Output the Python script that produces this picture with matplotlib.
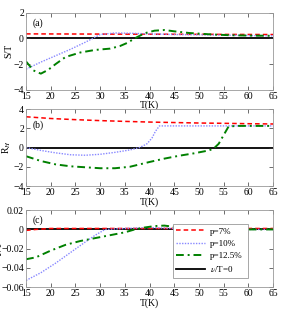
import matplotlib.pyplot as plt

plt.rcParams['font.family'] = ['Liberation Serif', 'DejaVu Serif']
plt.rcParams['mathtext.fontset'] = 'stix'

# panel (a): S/T
t_a_red = [15, 25, 35, 45, 55, 65]
st_red = [0.35, 0.34, 0.33, 0.32, 0.31, 0.30]
t_a_blue = [15, 18, 21, 24, 27, 30, 33, 36, 40, 45, 50, 55, 60, 65]
st_blue = [-2.4, -1.85, -1.35, -0.85, -0.3, 0.3, 0.42, 0.4, 0.35, 0.3, 0.28, 0.25, 0.22, 0.2]
t_a_green = [15, 16.5, 18, 19.5, 21, 23, 26, 29, 32, 34, 35.5, 37, 39, 41, 43, 45, 48, 52, 56, 60, 65]
st_green = [-1.8, -2.5, -2.75, -2.45, -2.0, -1.45, -1.1, -0.9, -0.8, -0.6, -0.35, 0.0, 0.4, 0.6, 0.65, 0.55, 0.42, 0.32, 0.25, 0.22, 0.2]

# panel (b): R_H
t_b_red = [15, 20, 25, 30, 35, 40, 45, 50, 55, 60, 65]
rh_red = [3.2, 3.02, 2.9, 2.8, 2.72, 2.65, 2.6, 2.55, 2.52, 2.48, 2.45]
t_b_blue = [15, 18, 21, 24, 27, 30, 33, 36, 38, 39.5, 40.5, 41.2, 42, 45, 50, 55, 60, 65]
rh_blue = [0.0, -0.3, -0.55, -0.75, -0.8, -0.7, -0.5, -0.25, 0.0, 0.4, 1.0, 1.7, 2.25, 2.25, 2.25, 2.25, 2.25, 2.25]
t_b_green = [15, 18, 21, 24, 27, 30, 33, 36, 38, 40, 43, 46, 49, 52, 53, 54, 55, 56, 58, 61, 65]
rh_green = [-0.9, -1.4, -1.75, -1.95, -2.05, -2.15, -2.15, -2.0, -1.75, -1.5, -1.15, -0.85, -0.6, -0.3, -0.1, 0.4, 1.3, 2.2, 2.25, 2.25, 2.25]

# panel (c): nu/T
t_c_red = [15, 17, 20, 30, 40, 50, 65]
nt_red = [-0.001, 0.0, 0.001, 0.001, 0.001, 0.001, 0.001]
t_c_blue = [15, 18, 21, 24, 27, 29, 31, 35, 40, 45, 50, 55, 65]
nt_blue = [-0.053, -0.045, -0.035, -0.024, -0.013, -0.006, 0.0, 0.001, 0.002, 0.001, 0.0005, 0.0, 0.0]
t_c_green = [15, 17, 20, 23, 26, 29, 32, 35, 37, 39, 41, 43, 46, 50, 55, 60, 65]
nt_green = [-0.031, -0.029, -0.022, -0.016, -0.012, -0.009, -0.006, -0.003, 0.0, 0.002, 0.0035, 0.004, 0.002, 0.001, 0.0005, 0.0, 0.0]

labels = ['p=7%', 'p=10%', 'p=12.5%', '$\\nu$/T=0']

fig = plt.figure(figsize=(2.83, 3.18), dpi=100)
ax_a = fig.add_axes([0.092, 0.718, 0.873, 0.242])
ax_b = fig.add_axes([0.092, 0.415, 0.873, 0.242])
ax_c = fig.add_axes([0.092, 0.097, 0.873, 0.242])


def style(ax, ylim, yticks, tag, tag_y):
    ax.set_xlim(15, 65)
    ax.set_ylim(*ylim)
    ax.set_xticks(range(15, 66, 5))
    ax.set_yticks(yticks)
    ax.tick_params(direction='in', top=True, right=True, labelsize=7, length=3,
                   width=0.5, pad=1.5, colors='#333333', labelcolor='black')
    for s in ax.spines.values():
        s.set_color('#999999')
        s.set_linewidth(0.6)
    ax.set_xlabel('T(K)', fontsize=7, labelpad=0)
    ax.text(0.025, tag_y, tag, transform=ax.transAxes, fontsize=7, va='top')


def draw(ax, xs, ys):
    (xr, yr), (xb, yb), (xg, yg) = zip(xs, ys)
    ax.plot(xr, yr, color='red', ls=(0, (3, 2)), lw=1.1, label=labels[0])
    ax.plot(xb, yb, color='#8888ff', ls=(0, (1, 1)), lw=1.0, label=labels[1])
    ax.plot(xg, yg, color='green', ls=(0, (4, 2, 1, 2)), lw=1.4, label=labels[2])
    ax.axhline(0, color='black', lw=1.3, label=labels[3], zorder=1)


draw(ax_a, [t_a_red, t_a_blue, t_a_green], [st_red, st_blue, st_green])
style(ax_a, (-4, 2), [-4, -2, 0, 2], '(a)', 0.93)
ax_a.set_ylabel('S/T', fontsize=7, labelpad=0)

draw(ax_b, [t_b_red, t_b_blue, t_b_green], [rh_red, rh_blue, rh_green])
style(ax_b, (-4, 4), [-4, -2, 0, 2, 4], '(b)', 0.85)
ax_b.set_ylabel('R$_H$', fontsize=7, labelpad=0)

draw(ax_c, [t_c_red, t_c_blue, t_c_green], [nt_red, nt_blue, nt_green])
style(ax_c, (-0.06, 0.02), [-0.06, -0.04, -0.02, 0, 0.02], '(c)', 0.93)
ax_c.set_yticklabels(['\u22120.06', '\u22120.04', '\u22120.02', '0', '0.02'])
ax_c.set_ylabel('$\\nu$/T', fontsize=7, labelpad=-2)

leg = ax_c.legend(loc='lower left', bbox_to_anchor=(0.575, 0.06, 0.34, 0.67),
                  mode='expand', fontsize=6.5, handlelength=3.2, borderpad=0.4,
                  labelspacing=0.45, handletextpad=0.5, fancybox=False, framealpha=1)
leg.get_frame().set_edgecolor('#999999')
leg.get_frame().set_linewidth(0.6)

fig.savefig('out.png', dpi=100)
